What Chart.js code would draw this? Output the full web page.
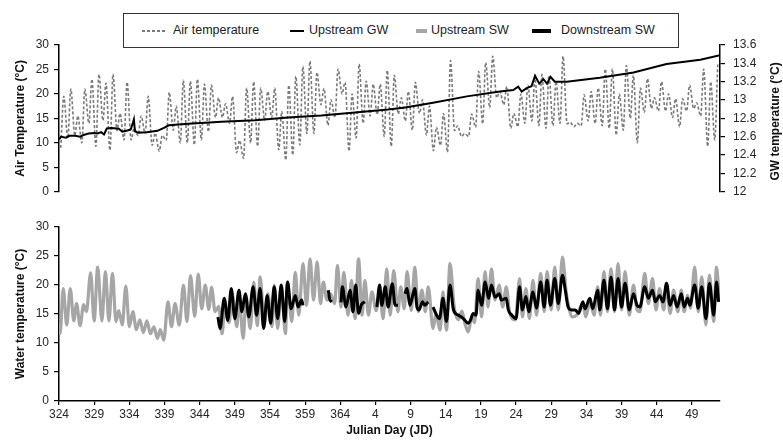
<!DOCTYPE html>
<html>
<head>
<meta charset="utf-8">
<script src="https://cdn.jsdelivr.net/npm/chart.js@4.4.0/dist/chart.umd.min.js"></script>
<style>
  body { margin: 0; background: #fff; width: 783px; height: 448px; position: relative; overflow: hidden;
         font-family: "Liberation Sans", Arial, sans-serif; }
  canvas { position: absolute; left: 0; }
  #topChart { top: 0; }
  #bottomChart { top: 205px; }
  #legend { position: absolute; left: 123px; top: 13px; width: 554px; height: 33px; border: 1px solid #333; }
  .txt { position: absolute; top: 0; height: 33px; line-height: 33px; font-size: 12.5px; color: #222; white-space: nowrap; }
  .smp { position: absolute; }
</style>
</head>
<body>
<div id="legend">
  <div class="smp" style="left:18px;top:16px;width:24px;height:1.5px;background:repeating-linear-gradient(90deg,#7a7a7a 0 3px,transparent 3px 5px);"></div>
  <div class="txt" style="left:49px;">Air temperature</div>
  <div class="smp" style="left:166px;top:16px;width:14px;height:1.5px;background:#000;"></div>
  <div class="txt" style="left:185px;">Upstream GW</div>
  <div class="smp" style="left:292px;top:15px;width:11px;height:3.5px;background:#a6a6a6;"></div>
  <div class="txt" style="left:307px;">Upstream SW</div>
  <div class="smp" style="left:408px;top:15px;width:19px;height:3.5px;background:#000;"></div>
  <div class="txt" style="left:437px;">Downstream SW</div>
</div>
<canvas id="topChart" width="783" height="207"></canvas>
<canvas id="bottomChart" width="783" height="243"></canvas>
<script>
// x values are days after JD 324 (day 41 = JD 365, day 42 = JD 1)
var tickLabels = ['324','329','334','339','344','349','354','359','364','4','9','14','19','24','29','34','39','44','49'];

// daily minimum / maximum air temperature (°C), one entry per day from JD 324
var airMin = [9,11,11.5,10,14,9.3,14.6,8.5,12.5,10.6,10.6,11.5,12,9.5,8.3,10.5,12.6,10,10,9.6,
  10.6,12.3,15.2,15.2,14,8,6.8,10,9.3,14.6,15.2,8.6,6.5,7.5,9.6,11.9,11.9,17.8,13.6,15.2,
  20,8.3,11,14,15.5,15.8,11.3,9.3,15.9,14.5,12.6,16,11.6,8.4,9.5,8.1,12.5,11.3,11.3,13.2,
  13.9,17.2,19.2,17.8,13,13.3,14,14.5,13.5,13,13.5,14,13.9,13.3,13.5,14.5,14,13.5,13,11.6,
  12.6,15,10,16.2,17,16.5,16.5,15.2,13.3,16.5,17,15.5,9.3,10.6];
var airMax = [19.5,21,15.5,21,23,24,22.2,24,16,22.4,13,15.5,19.5,12,11.5,20.3,17.5,22.8,22.6,23,
  22,21.8,19.2,18,19.5,10.5,21.2,22.5,21.2,20.5,21.2,16.4,21.8,23.6,25.6,26.7,24.4,21.1,18.8,25.1,
  22.4,20,26.1,22.6,22,22,24.8,23.8,19.2,20.5,22.4,18.8,17.5,13.2,16,26.8,13.5,11.9,15.9,24.6,
  26.4,27.7,20.5,21.5,16,20,21.8,23.1,24,23.8,22.5,27.7,14.2,14,19.8,20.5,21.2,25.1,25.1,20,
  25.8,23.8,21.2,23.1,19.2,22.5,20,19,19,21.8,18.2,25.1,22.5,26];

// upstream groundwater temperature (°C, right axis): [day, value]
var upstreamGW = [[0,12.57],[0.3,12.6],[1,12.59],[1.5,12.61],[2.3,12.61],[3,12.6],[3.5,12.62],[4.2,12.635],
  [5,12.64],[5.5,12.635],[6,12.65],[6.4,12.625],[6.8,12.69],[7.5,12.695],[8.5,12.688],[9,12.655],
  [9.6,12.665],[10.2,12.68],[10.5,12.75],[10.65,12.79],[10.8,12.66],[11.2,12.645],[12.5,12.65],
  [14,12.665],[15,12.7],[15.6,12.725],[18.4,12.741],[23.1,12.763],[27.9,12.779],[32.6,12.811],
  [37.3,12.832],[42.1,12.864],[46.8,12.896],[49,12.917],[53.2,12.971],[58,13.04],[62.7,13.093],
  [64.6,13.109],[65.3,13.147],[65.8,13.093],[66.5,13.13],[67.2,13.15],[67.7,13.264],[68.3,13.179],
  [68.9,13.227],[69.4,13.179],[69.9,13.253],[70.5,13.2],[72.2,13.2],[76.9,13.243],[81.7,13.301],
  [86.4,13.392],[91.2,13.44],[94,13.488]];

// upstream surface water temperature (°C): [day, value]
var upstreamSW = [[0,13.5],[0.15,11.6],[0.6,19.4],[1.1,13.1],[1.6,19.4],[2.1,13.8],[2.5,16.8],[3,13],
  [3.5,16.6],[3.9,15.4],[4.5,22.1],[5,13.8],[5.5,23.1],[6.1,13.8],[6.6,22.3],[7.1,13.8],[7.6,22],
  [8.1,13.7],[8.5,15.6],[9,13.1],[9.5,19.8],[10,12.8],[10.5,15.4],[11,12.3],[11.5,14],[12,11.8],
  [12.5,13.8],[13,11.6],[13.5,12.8],[14,10.8],[14.4,12.3],[14.9,10.5],[15.5,17.1],[16,12.8],
  [16.5,16.8],[17.1,13.1],[17.7,20],[18.2,13.7],[18.7,21.6],[19.3,14.6],[19.8,21.9],[20.3,15.9],
  [20.8,20],[21.3,15.8],[21.7,19.6],[22.2,15.4],[22.7,16.3],[23.2,11.6],[23.6,17],[24.2,13.5],
  [24.6,18.5],[25.3,12.8],[25.6,18],[26.2,10.8],[26.6,18],[27.2,12.5],[27.7,20.5],[28.2,13],
  [28.6,21.4],[29.2,13.2],[29.7,18.5],[30.3,12.8],[30.6,20],[31.1,12.5],[31.6,20],[32.2,11.6],
  [32.5,20.5],[33.1,13.7],[33.6,22.2],[34.1,14.8],[34.7,23.7],[35.2,16.5],[35.7,24.5],[36.2,17.4],
  [36.7,24],[37.2,16.8],[37.6,20.5],[38.1,17.4],[38.6,18.5],[39.2,16.8],[39.6,23.4],[40.1,16.2],
  [40.5,22.2],[41.1,14.8],[41.6,20.8],[42.1,14.2],[42.6,24.5],[43.1,14.8],[43.5,20.8],[44,14.8],
  [44.5,18.8],[45.1,15.6],[45.6,18.8],[46.1,14.2],[46.6,22.8],[47.1,14.8],[47.6,22.5],[48.2,15.4],
  [48.6,19.7],[49.1,15.9],[49.5,22.3],[50.1,15.6],[50.6,23.1],[51.1,15.4],[51.6,19.1],[52.1,15.4],
  [52.5,19.7],[53.2,12.5],[53.6,15],[54.2,12.2],[54.6,18.8],[55.1,12.2],[55.6,23.7],[56.2,16.2],
  [56.8,14],[57.3,15.5],[57.7,13.5],[58.2,11.9],[58.7,14.5],[59.1,13.5],[59.6,21.1],[60.1,14.5],
  [60.6,22.3],[61,16.2],[61.5,22.8],[62,17.4],[62.6,20],[63.1,16.2],[63.6,19.7],[64.1,15.1],
  [64.9,14],[65.5,21.1],[65.9,14.5],[66.4,19.4],[66.9,14.2],[67.4,20.8],[67.9,14.8],[68.5,22],
  [69,15.4],[69.4,22.3],[70,15.7],[70.5,23.1],[71,15.7],[71.6,24.8],[72.1,19],[72.4,16.8],
  [73,14.5],[73.6,14.8],[74.5,16.8],[74.9,14.5],[75.5,17.1],[76.1,14.8],[76.6,19.7],[77,14.8],
  [77.5,22.3],[78,15.4],[78.5,22.8],[79,15.4],[79.5,23.7],[80,15.7],[80.5,22.3],[81.1,14.8],
  [81.7,20],[82.2,15.7],[82.6,15.4],[83.3,22],[83.8,16.8],[84.4,21.1],[84.9,15.7],[85.4,19.4],
  [86,15.7],[86.4,20.3],[86.9,15.1],[87.4,19.1],[88,15.4],[88.5,19.1],[88.9,15.4],[89.4,18.2],
  [89.8,16],[90.4,23.1],[90.9,15.4],[91.4,21.4],[92,13.1],[92.5,21.7],[93.1,13.7],[93.5,23.1],[93.9,17.1]];

// downstream surface water temperature (°C): [day, value], null = no record
var downstreamSW = [[22.6,14.5],[22.9,12.5],[23.5,17.7],[24,13.9],[24.5,19.4],[25,14.2],[25.6,19.1],
  [26,15.4],[26.5,18.5],[27,14.5],[27.6,19.7],[28.1,14.8],[28.6,19.4],[29.1,12.5],[29.6,18.2],
  [30.1,13.4],[30.6,19.7],[31.1,14.2],[31.6,20],[32.1,13.7],[32.5,20.5],[33,15.9],[33.6,18.2],
  [34,16.2],[34.5,17.4],[34.7,16.5],[36,null],
  [38.3,19.1],[38.5,17.5],[38.8,17.1],[39.5,null],
  [40.1,17],[40.3,19.7],[40.8,16.2],[41.4,19.1],[41.8,15.4],[42.2,20],[42.6,15.1],[43,16.6],[43.5,17.1],[44,null],
  [45.2,16.2],[45.6,20],[45.9,16.5],[46.4,19.7],[46.8,16.2],[47.4,20.2],[47.8,16.5],[48.2,16.5],[48.7,null],
  [49.2,18.5],[49.5,19.4],[49.9,16.5],[50.6,19.4],[50.9,16.2],[51.2,15.7],[51.7,17.1],[52,16.5],[52.5,17.1],[52.8,null],
  [53.2,16.2],[53.7,14.8],[54.1,14.2],[54.6,17.7],[55.1,13.7],[55.6,20],[56.1,15.7],[56.8,14.8],
  [57.5,14.2],[58.2,13.4],[58.5,13.9],[58.9,15.1],[59.3,14.8],[59.6,19.1],[60.1,16.5],[60.6,20.5],
  [61.1,17.7],[61.5,20],[62,17.9],[62.6,18.5],[62.9,17.4],[63.6,17.7],[63.9,15.7],[64.4,14.8],
  [65,14.2],[65.5,19.7],[65.9,15.7],[66.4,18],[66.8,15.4],[67.4,18.8],[67.9,16],[68.5,20.5],
  [69,16.2],[69.4,20.8],[69.9,16.5],[70.5,21.1],[71,16.8],[71.6,21.7],[72,19.1],[72.4,16.2],
  [72.9,15.7],[73.4,15.7],[73.9,15.1],[74.5,17.1],[74.8,15.9],[75.5,17.7],[75.9,15.9],[76.6,19.1],
  [76.9,15.7],[77.5,20.8],[78,15.9],[78.5,21.4],[79,15.7],[79.5,21.1],[80,16.2],[80.5,20.3],
  [81.1,15.7],[81.7,18.5],[82.2,16.5],[82.6,16.2],[83.3,19.7],[83.8,17.7],[84.4,19.1],[84.8,17.1],
  [85.4,18.2],[85.9,17.1],[86.4,20.3],[86.9,16.5],[87.4,18.2],[87.9,16.2],[88.5,18.5],[88.9,16.2],
  [89.4,17.7],[89.7,16.5],[90.4,20],[90.9,16],[91.4,19.7],[92,14.2],[92.5,20.3],[93.1,14.8],
  [93.5,20.5],[93.8,17.1]];

function toXY(pairs) {
  return pairs.map(function (p) { return { x: p[0], y: p[1] }; });
}

// two readings a day: night minimum then afternoon maximum
var airPoints = [];
airMin.forEach(function (v, d) {
  airPoints.push({ x: d + 0.25, y: v });
  airPoints.push({ x: d + 0.68, y: airMax[d] });
});

var FONT = 'Liberation Sans';
var tickFont = { family: FONT, size: 12 };
var titleFont = { family: FONT, size: 12, weight: 'bold' };
var axisColor = '#000';
var labelColor = '#262626';

function yAxis(min, max, step, pos, title) {
  var s = {
    type: 'linear', position: pos, min: min, max: max,
    ticks: { stepSize: step, font: tickFont, color: labelColor, padding: pos === 'left' ? 5 : 8,
      callback: function (v) { return String(Math.round(v * 10) / 10); } },
    grid: { drawOnChartArea: false, tickLength: 5, color: axisColor, lineWidth: 1.2 },
    border: { color: axisColor, width: 1.5 },
    afterFit: function (sc) { sc.width = pos === 'left' ? 59 : 63; }
  };
  if (title) {
    s.title = { display: true, text: title, font: titleFont, color: '#111', padding: { top: 13, bottom: 0 } };
  }
  return s;
}

// right axis title reads bottom-to-top like the left one
var gwTitle = {
  id: 'gwTitle',
  afterDraw: function (chart) {
    var ctx = chart.ctx, a = chart.chartArea;
    ctx.save();
    ctx.translate(776, (a.top + a.bottom) / 2 + 3);
    ctx.rotate(-Math.PI / 2);
    ctx.font = 'bold 12px "' + FONT + '"';
    ctx.fillStyle = '#111';
    ctx.textAlign = 'center';
    ctx.textBaseline = 'middle';
    ctx.fillText('GW temperature (°C)', 0, 0);
    ctx.restore();
  }
};

var common = {
  responsive: false,
  animation: false,
  devicePixelRatio: 1,
  plugins: { legend: { display: false }, tooltip: { enabled: false } },
  elements: { point: { radius: 0 } }
};

new Chart(document.getElementById('topChart'), {
  type: 'line',
  data: {
    datasets: [
      { label: 'Upstream GW', data: toXY(upstreamGW), yAxisID: 'yGW', borderColor: '#000', borderWidth: 2, tension: 0 },
      { label: 'Air temperature', data: airPoints, yAxisID: 'yAir', borderColor: '#7a7a7a', borderWidth: 1.6,
        borderDash: [3, 2], cubicInterpolationMode: 'monotone' }
    ]
  },
  options: Object.assign({}, common, {
    layout: { padding: { top: 45, bottom: 10, left: 0, right: 0 } },
    scales: {
      x: { type: 'linear', min: 0, max: 94, display: false },
      yAir: yAxis(0, 30, 5, 'left', 'Air Temperature (°C)'),
      yGW: yAxis(12, 13.6, 0.2, 'right', null)
    }
  }),
  plugins: [gwTitle]
});

new Chart(document.getElementById('bottomChart'), {
  type: 'line',
  data: {
    datasets: [
      { label: 'Downstream SW', data: toXY(downstreamSW), borderColor: '#000', borderWidth: 3,
        cubicInterpolationMode: 'monotone', spanGaps: false },
      { label: 'Upstream SW', data: toXY(upstreamSW), borderColor: '#a6a6a6', borderWidth: 3.2,
        cubicInterpolationMode: 'monotone' }
    ]
  },
  options: Object.assign({}, common, {
    layout: { padding: { top: 22, bottom: 0, left: 0, right: 63 } },
    scales: {
      x: {
        type: 'linear', min: 0, max: 94,
        afterBuildTicks: function (sc) { sc.ticks = tickLabels.map(function (l, i) { return { value: i * 5 }; }); },
        ticks: { autoSkip: false, maxRotation: 0, padding: 2, font: tickFont, color: labelColor,
          callback: function (v, i) { return tickLabels[i]; } },
        grid: { drawOnChartArea: false, tickLength: 4, color: axisColor, lineWidth: 1.2 },
        border: { color: axisColor, width: 1.5 },
        title: { display: true, text: 'Julian Day (JD)', font: titleFont, color: '#111', padding: { top: 0, bottom: 10 } },
        afterFit: function (sc) { sc.height = 47; }
      },
      y: yAxis(0, 30, 5, 'left', 'Water temperature (°C)')
    }
  })
});
</script>
</body>
</html>
